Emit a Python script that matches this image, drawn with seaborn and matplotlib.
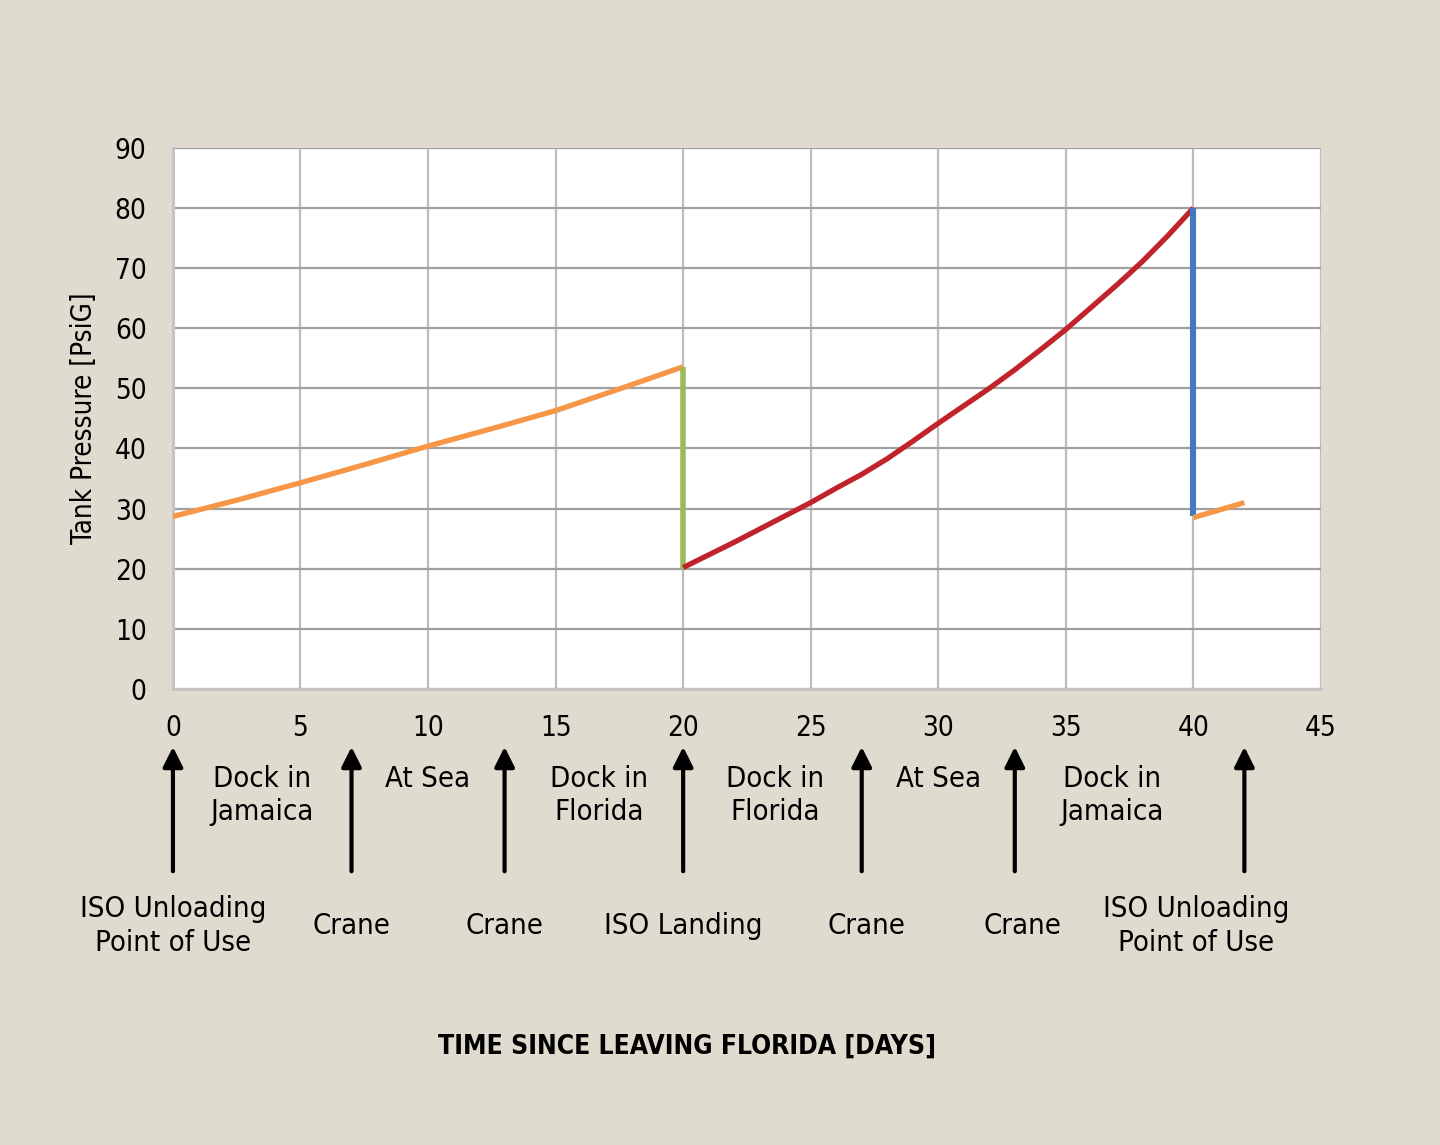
import matplotlib
matplotlib.use("Agg")
import matplotlib.pyplot as plt
from matplotlib import font_manager
import seaborn as sns
import pandas as pd

# ---------------- data ----------------
seg1_days = [0, 2.5, 5, 7.5, 10, 12.5, 15, 17.5, 20]
seg1_psi = [28.7, 31.4, 34.3, 37.3, 40.4, 43.3, 46.3, 49.9, 53.6]
drop1_days = [20, 20]
drop1_psi = [53.6, 20.0]
seg2_days = [20, 21, 22, 23, 24, 25, 26, 27, 28, 29, 30,
             31, 32, 33, 34, 35, 36, 37, 38, 39, 40]
seg2_psi = [20.2, 22.3, 24.4, 26.6, 28.8, 31.0, 33.4, 35.7, 38.3, 41.2, 44.2,
            47.1, 50.0, 53.1, 56.4, 59.8, 63.5, 67.2, 71.1, 75.4, 80.0]
drop2_days = [40, 40]
drop2_psi = [80.0, 28.8]
seg3_days = [40, 42]
seg3_psi = [28.5, 31.0]

event_days = [0, 7, 13, 20, 27, 33, 42]
event_label_days = [0, 7, 13, 20, 27.2, 33.3, 40.1]
event_labels = ["ISO Unloading\nPoint of Use", "Crane", "Crane", "ISO Landing",
                "Crane", "Crane", "ISO Unloading\nPoint of Use"]
phase_days = [3.5, 10, 16.7, 23.6, 30, 36.8]
phase_labels = ["Dock in\nJamaica", "At Sea", "Dock in\nFlorida", "Dock in\nFlorida",
                "At Sea", "Dock in\nJamaica"]

x_ticks = [0, 5, 10, 15, 20, 25, 30, 35, 40, 45]
y_ticks = [0, 10, 20, 30, 40, 50, 60, 70, 80, 90]

# ---------------- style ----------------
sns.set_style("white")
names = {f.name for f in font_manager.fontManager.ttflist}
if "Liberation Sans Narrow" in names:
    fam = ["Liberation Sans Narrow", "DejaVu Sans"]
    stretch = "normal"
else:
    fam = ["DejaVu Sans"]
    stretch = "condensed"
plt.rcParams["font.family"] = fam
plt.rcParams["font.stretch"] = stretch
plt.rcParams["text.color"] = "black"
plt.rcParams["axes.labelcolor"] = "black"

BG = "#DFDCCF"
fig = plt.figure(figsize=(14.4, 11.45), dpi=100, facecolor=BG)
ax = fig.add_axes([0.1201, 0.3983, 0.7972, 0.4725])
ax.set_facecolor("white")

segments = [
    (seg1_days, seg1_psi, "#F79646", 3.8),
    (drop1_days, drop1_psi, "#9BBB59", 4.0),
    (seg2_days, seg2_psi, "#C1232B", 3.8),
    (drop2_days, drop2_psi, "#4479C0", 4.4),
    (seg3_days, seg3_psi, "#F79646", 3.8),
]
for i, (xs, ys, c, w) in enumerate(segments):
    df = pd.DataFrame({"day": xs, "psi": ys})
    sns.lineplot(data=df, x="day", y="psi", ax=ax, color=c, lw=w,
                 sort=False, estimator=None, zorder=3 + i,
                 solid_capstyle="butt", solid_joinstyle="round")

ax.set_xlim(0, 45)
ax.set_ylim(0, 90)
ax.set_xticks(x_ticks)
ax.set_yticks(y_ticks)
ax.set_xticklabels([str(t) for t in x_ticks])
ax.set_yticklabels([str(t) for t in y_ticks])

ax.grid(axis="y", color="#A0A0A0", lw=1.6, zorder=1)
ax.grid(axis="x", color="#BDBDBD", lw=1.6, zorder=1)
ax.set_axisbelow(True)
for s in ["top", "right"]:
    ax.spines[s].set_visible(False)
for s in ["left", "bottom"]:
    ax.spines[s].set_color("#C4C4C4")
    ax.spines[s].set_linewidth(2.2)
ax.tick_params(axis="both", which="both", length=5, width=1.6, color="#B5B5B5",
               labelsize=20, labelcolor="black")
ax.tick_params(axis="x", pad=13)
ax.tick_params(axis="y", pad=14)
ax.set_xlabel("")
ax.set_ylabel("Tank Pressure [PsiG]", fontsize=20, labelpad=12)

trans = ax.get_xaxis_transform()
for d in event_days:
    ax.annotate("", xy=(d, -0.107), xytext=(d, -0.337), xycoords=trans,
                textcoords=trans, annotation_clip=False,
                arrowprops=dict(arrowstyle="-|>", color="black", lw=3.0,
                                mutation_scale=30, shrinkA=0, shrinkB=0))
for d, lab in zip(event_label_days, event_labels):
    ax.text(d, -0.438, lab, transform=trans, ha="center", va="center",
            fontsize=21, linespacing=1.25, clip_on=False)

for d, lab in zip(phase_days, phase_labels):
    ax.text(d, -0.140, lab, transform=trans, ha="center", va="top",
            fontsize=21, linespacing=1.25, clip_on=False)

fig.text(0.477, 0.086, "TIME SINCE LEAVING FLORIDA [DAYS]", ha="center",
         va="center", fontsize=19, fontweight="bold")

fig.savefig("out.png", dpi=100, facecolor=BG)
